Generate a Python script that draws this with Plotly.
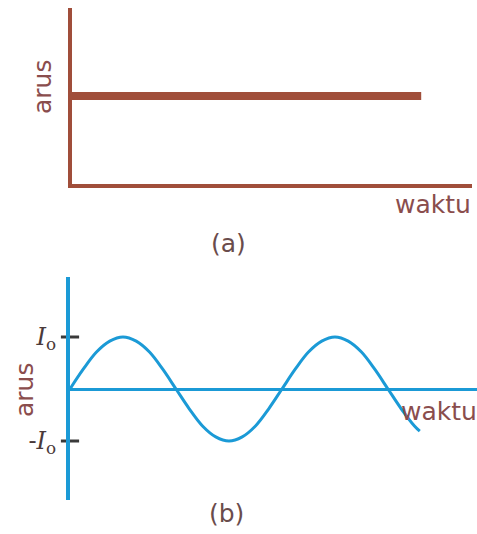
import plotly.graph_objects as go

W, H = 477, 534

# (a) direct current: constant level over time
dc_time = [0.0, 8.73]
dc_current = [5.0, 5.0]

# (b) alternating current, read every sixteenth of a period (period = 8 time units)
ac_time = [0, 0.5, 1, 1.5, 2, 2.5, 3, 3.5, 4, 4.5, 5, 5.5, 6, 6.5, 7, 7.5,
           8, 8.5, 9, 9.5, 10, 10.5, 11, 11.5, 12, 12.5, 13, 13.2]
ac_current = [0, 0.38, 0.71, 0.92, 1, 0.92, 0.71, 0.38, 0, -0.38, -0.71, -0.92, -1, -0.92, -0.71, -0.38,
              0, 0.38, 0.71, 0.92, 1, 0.92, 0.71, 0.38, 0, -0.38, -0.71, -0.81]

# peak current ticks
peak_vals = [-1, 1]
peak_text = ["-<i>I</i><sub>o</sub>", "<i>I</i><sub>o</sub>"]

x_label = "waktu"
y_label = "arus"
panel_labels = ["(a)", "(b)"]

BROWN = "#a04e3a"
BLUE = "#1b9ad6"
TEXT = "#8a4d4d"
CAPTION = "#6a4c4c"


def px_x(p):
    return p / W


def px_y(p):
    return 1 - p / H


fig = go.Figure()

fig.add_trace(go.Scatter(
    x=dc_time, y=dc_current, mode="lines",
    line=dict(color=BROWN, width=8), xaxis="x", yaxis="y",
    showlegend=False, hoverinfo="skip",
))

fig.add_trace(go.Scatter(
    x=ac_time, y=ac_current, mode="lines",
    line=dict(color=BLUE, width=3, shape="spline", smoothing=1.0),
    xaxis="x2", yaxis="y2", showlegend=False, hoverinfo="skip",
))

# short cross ticks at +/- peak current on the vertical axis
fig.add_trace(go.Scatter(
    x=[0, 0], y=peak_vals, mode="markers",
    marker=dict(symbol="line-ew", size=13, line=dict(color="#3a3a3a", width=3)),
    xaxis="x2", yaxis="y2", cliponaxis=False, showlegend=False, hoverinfo="skip",
))

hidden = dict(showgrid=False, zeroline=False, showticklabels=False, ticks="", fixedrange=True)

fig.update_layout(
    width=W, height=H,
    margin=dict(l=0, r=0, t=0, b=0),
    paper_bgcolor="white", plot_bgcolor="white",
    xaxis=dict(domain=[px_x(72), px_x(472)], range=[0, 10],
               showline=True, linecolor=BROWN, linewidth=4, anchor="y", **hidden),
    yaxis=dict(domain=[px_y(184), px_y(8)], range=[0, 10],
               showline=True, linecolor=BROWN, linewidth=4, anchor="x", **hidden),
    xaxis2=dict(domain=[px_x(70), px_x(477)], range=[0, 15.36], anchor="y2",
                showgrid=False, zeroline=False, showticklabels=False, ticks="",
                showline=False, fixedrange=True),
    yaxis2=dict(domain=[px_y(500), px_y(277)], range=[-111 / 52, 112 / 52], anchor="x2",
                showgrid=False, fixedrange=True,
                showline=True, linecolor=BLUE, linewidth=4,
                zeroline=True, zerolinecolor=BLUE, zerolinewidth=3,
                tickmode="array", tickvals=peak_vals, ticktext=peak_text, ticks="",
                ticklabelstandoff=5,
                tickfont=dict(family="DejaVu Serif", size=24, color="#4a3a3a")),
)

sans = "DejaVu Sans"
notes = [
    (y_label, 42, 87, 90, TEXT),
    (x_label, 433, 204, 0, TEXT),
    (panel_labels[0], 228, 243, 0, CAPTION),
    (y_label, 24, 390, 90, TEXT),
    (x_label, 439, 411, 0, TEXT),
    (panel_labels[1], 226, 513, 0, CAPTION),
]
for text, x, y, ang, col in notes:
    fig.add_annotation(
        text=text, x=px_x(x), y=px_y(y), xref="paper", yref="paper",
        showarrow=False, textangle=-ang, xanchor="center", yanchor="middle",
        font=dict(family=sans, size=25, color=col),
    )

fig.write_html("out.html")
